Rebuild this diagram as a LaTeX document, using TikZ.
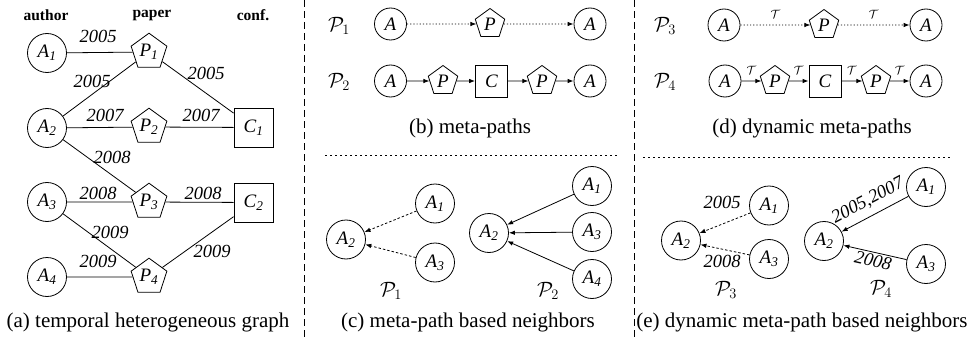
\documentclass[tikz,border=0pt]{standalone}
\usepackage{fontspec}
\setmainfont{Liberation Serif}
\usetikzlibrary{shapes.geometric,arrows.meta}

% italic vertex label with italic subscript
\newcommand\vtx[2]{\textit{#1}\textsubscript{\textit{#2}}}

\begin{document}
\begin{tikzpicture}[x=1pt,y=-1pt,
  every node/.style={font=\fontsize{19}{22}\selectfont},
  lw/.style={line width=0.8pt},
  au/.style={circle,draw,lw,minimum size=39pt,inner sep=0pt},
  pa/.style={regular polygon,regular polygon sides=5,draw,lw,minimum size=37.6pt,inner sep=0pt},
  cf/.style={rectangle,draw,lw,minimum size=39pt,inner sep=0pt},
  aus/.style={circle,draw,lw,minimum size=32pt,inner sep=0pt},
  pas/.style={regular polygon,regular polygon sides=5,draw,lw,minimum size=31pt,inner sep=0pt},
  cfs/.style={rectangle,draw,lw,minimum size=32pt,inner sep=0pt},
  link/.style={lw},
  arr/.style={lw,-{Latex[length=6pt,width=4.5pt]}},
  dotarr/.style={arr,dash pattern=on 1.2pt off 2pt},
  dasharr/.style={arr,dash pattern=on 2.5pt off 2pt},
  yr/.style={font=\fontsize{18.5}{20}\selectfont\itshape,inner sep=0pt},
  headtext/.style={font=\fontsize{15.5}{18}\selectfont\bfseries,inner sep=0pt},
  captext/.style={font=\fontsize{21}{24}\selectfont,anchor=base,inner sep=0pt},
  mp/.style={font=\fontsize{22}{24}\selectfont,inner sep=0pt},
  tl/.style={font=\fontsize{13}{13}\selectfont,inner sep=0pt,above=6pt},
  vsep/.style={lw,dash pattern=on 7pt off 4pt},
  hsep/.style={lw,dash pattern=on 2pt off 3pt}
]
\useasboundingbox (0,0) rectangle (970,337);

% ---------- (a) temporal heterogeneous graph ----------
\node[headtext] (hA) at (46,15) {author};
\node[headtext] (hP) at (152,15) {paper};
\node[headtext] (hC) at (253,15) {conf.};

\node[au] (A1) at (47,53)  {\vtx{A}{1}};
\node[au] (A2) at (47,128) {\vtx{A}{2}};
\node[au] (A3) at (47,202) {\vtx{A}{3}};
\node[au] (A4) at (47,277) {\vtx{A}{4}};
\node[pa] (P1) at (149,52)  {\vtx{P}{1}};
\node[pa] (P2) at (149,127) {\vtx{P}{2}};
\node[pa] (P3) at (149,202) {\vtx{P}{3}};
\node[pa] (P4) at (149,277) {\vtx{P}{4}};
\node[cf] (C1) at (253.5,127.5) {\vtx{C}{1}};
\node[cf] (C2) at (253.5,202.5) {\vtx{C}{2}};

\draw[link] (A1) -- (P1);
\draw[link] (A2) -- (P1);
\draw[link] (A2) -- (P2);
\draw[link] (A2) -- (P3);
\draw[link] (A3) -- (P3);
\draw[link] (A3) -- (P4);
\draw[link] (A4) -- (P4);
\draw[link] (P1) -- (C1);
\draw[link] (P2) -- (C1);
\draw[link] (P3) -- (C2);
\draw[link] (P4) -- (C2);

\node[yr] (y11) at (98,36)    {2005};
\node[yr] (y21) at (92,81)    {2005};
\node[yr] (y13) at (206,73)   {2005};
\node[yr] (y22) at (105,115)  {2007};
\node[yr] (y23) at (201,115)  {2007};
\node[yr] (y31) at (112,157)  {2008};
\node[yr] (y32) at (98,193)   {2008};
\node[yr] (y33) at (203,193)  {2008};
\node[yr] (y41) at (110,232)  {2009};
\node[yr] (y42) at (98,261.5) {2009};
\node[yr] (y43) at (212,251.5){2009};

\node[captext] (capA) at (148,327) {(a) temporal heterogeneous graph};

% ---------- separators ----------
\coordinate (v1t) at (304,0);   \coordinate (v1b) at (304,337);
\coordinate (v2t) at (634,0);   \coordinate (v2b) at (634,337);
\draw[vsep] (v1t) -- (v1b);
\draw[vsep] (v2t) -- (v2b);
\coordinate (h1l) at (325,155); \coordinate (h1r) at (618,155);
\coordinate (h2l) at (643,157); \coordinate (h2r) at (952,157);
\draw[hsep] (h1l) -- (h1r);
\draw[hsep] (h2l) -- (h2r);

% ---------- (b) meta-paths ----------
\node[mp] (bP1) at (339,26) {$\mathcal{P}_1$};
\node[aus] (b1a) at (390.5,24) {\textit{A}};
\node[pas] (b1p) at (490,24)   {\textit{P}};
\node[aus] (b1c) at (590,24)   {\textit{A}};
\draw[dotarr] (b1a) -- (b1p);
\draw[dotarr] (b1p) -- (b1c);

\node[mp] (bP2) at (339,82) {$\mathcal{P}_2$};
\node[aus] (b2a) at (390.5,81) {\textit{A}};
\node[pas] (b2p) at (443,81)   {\textit{P}};
\node[cfs] (b2c) at (491.5,81) {\textit{C}};
\node[pas] (b2q) at (542,81)   {\textit{P}};
\node[aus] (b2b) at (590,81)   {\textit{A}};
\draw[arr] (b2a) -- (b2p);
\draw[arr] (b2p) -- (b2c);
\draw[arr] (b2c) -- (b2q);
\draw[arr] (b2q) -- (b2b);

\node[captext] (capB) at (470,133) {(b) meta-paths};

% ---------- (c) meta-path based neighbors ----------
\node[au] (c1a2) at (346,239.5) {\vtx{A}{2}};
\node[au] (c1a1) at (435,203.5) {\vtx{A}{1}};
\node[au] (c1a3) at (435,262.5) {\vtx{A}{3}};
\draw[dasharr] (c1a1) -- (c1a2);
\draw[dasharr] (c1a3) -- (c1a2);
\node[mp] (cP1) at (391,291) {$\mathcal{P}_1$};

\node[au] (c2a2) at (489,233) {\vtx{A}{2}};
\node[au] (c2a1) at (592,186) {\vtx{A}{1}};
\node[au] (c2a3) at (592,232) {\vtx{A}{3}};
\node[au] (c2a4) at (592,279) {\vtx{A}{4}};
\draw[arr] (c2a1) -- (c2a2);
\draw[arr] (c2a3) -- (c2a2);
\draw[arr] (c2a4) -- (c2a2);
\node[mp] (cP2) at (548,291) {$\mathcal{P}_2$};

\node[captext] (capC) at (468,327) {(c) meta-path based neighbors};

% ---------- (d) dynamic meta-paths ----------
\node[mp] (dP3) at (665,26) {$\mathcal{P}_3$};
\node[aus] (d1a) at (724,25) {\textit{A}};
\node[pas] (d1p) at (824,25) {\textit{P}};
\node[aus] (d1b) at (926,25) {\textit{A}};
\draw[dotarr] (d1a) -- node[tl] {$\mathcal{T}$} (d1p);
\draw[dotarr] (d1p) -- node[tl] {$\mathcal{T}$} (d1b);

\node[mp] (dP4) at (665,82) {$\mathcal{P}_4$};
\node[aus] (d2a) at (725,81) {\textit{A}};
\node[pas] (d2p) at (775,81) {\textit{P}};
\node[cfs] (d2c) at (825,81) {\textit{C}};
\node[pas] (d2q) at (876,81) {\textit{P}};
\node[aus] (d2b) at (926,81) {\textit{A}};
\draw[arr] (d2a) -- node[tl] {$\mathcal{T}$} (d2p);
\draw[arr] (d2p) -- node[tl] {$\mathcal{T}$} (d2c);
\draw[arr] (d2c) -- node[tl] {$\mathcal{T}$} (d2q);
\draw[arr] (d2q) -- node[tl] {$\mathcal{T}$} (d2b);

\node[captext] (capD) at (812,133) {(d) dynamic meta-paths};

% ---------- (e) dynamic meta-path based neighbors ----------
\node[au] (e1a2) at (681,240.5) {\vtx{A}{2}};
\node[au] (e1a1) at (769,205.5) {\vtx{A}{1}};
\node[au] (e1a3) at (769,259) {\vtx{A}{3}};
\draw[dasharr] (e1a1) -- (e1a2);
\draw[dasharr] (e1a3) -- (e1a2);
\node[yr] (e1y1) at (722,202) {2005};
\node[yr] (e1y2) at (722,261) {2008};
\node[mp] (eP3) at (726,290) {$\mathcal{P}_3$};

\node[au] (e2a2) at (824,241) {\vtx{A}{2}};
\node[au] (e2a1) at (926,187) {\vtx{A}{1}};
\node[au] (e2a3) at (926,264) {\vtx{A}{3}};
\draw[arr] (e2a1) -- node[yr,sloped,above=7pt] {2005,2007} (e2a2);
\draw[arr] (e2a3) -- node[yr,sloped,below=2pt] {2008} (e2a2);
\node[mp] (eP4) at (881,289) {$\mathcal{P}_4$};

\node[captext] (capE) at (802,327) {(e) dynamic meta-path based neighbors};
\end{tikzpicture}
\end{document}
